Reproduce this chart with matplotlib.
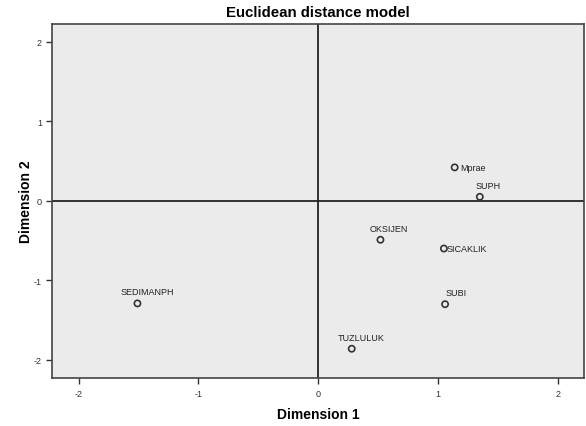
import matplotlib
matplotlib.use('Agg')
import matplotlib.pyplot as plt

plt.rcParams['font.family'] = ['Liberation Sans', 'DejaVu Sans']
plt.rcParams['axes.unicode_minus'] = False

# stimulus coordinates
names = ['Mprae', 'SUPH', 'OKSIJEN', 'SICAKLIK', 'SUBI', 'SEDIMANPH', 'TUZLULUK']
dim1 = [1.14, 1.35, 0.52, 1.05, 1.06, -1.51, 0.28]
dim2 = [0.42, 0.05, -0.49, -0.60, -1.30, -1.29, -1.86]

# label offsets in points and alignment
offsets = {
    'Mprae': (4, 0, 'left', 'center'),
    'SUPH': (-3, 5, 'left', 'bottom'),
    'OKSIJEN': (-8, 5, 'left', 'bottom'),
    'SICAKLIK': (2, 0, 'left', 'center'),
    'SUBI': (0, 5, 'left', 'bottom'),
    'SEDIMANPH': (-12, 5, 'left', 'bottom'),
    'TUZLULUK': (-10, 5, 'left', 'bottom'),
}

ticks = [-2, -1, 0, 1, 2]

def main():
    fig = plt.figure(figsize=(5.86, 4.27), dpi=100)
    ax = fig.add_axes([0.0895, 0.112, 0.907, 0.829])
    ax.set_facecolor('#ebebeb')

    ax.axhline(0, color='#222222', lw=1.3, zorder=1)
    ax.axvline(0, color='#222222', lw=1.3, zorder=1)

    ax.scatter(dim1, dim2, s=20, facecolors='none', edgecolors='#333333',
               linewidths=1.2, zorder=3)
    for n, x, y in zip(names, dim1, dim2):
        dx, dy, ha, va = offsets[n]
        ax.annotate(n, (x, y), xytext=(dx, dy), textcoords='offset points',
                    ha=ha, va=va, fontsize=6.5, color='#222222')

    ax.set_xlim(-2.22, 2.22)
    ax.set_ylim(-2.23, 2.22)
    ax.set_xticks(ticks)
    ax.set_yticks(ticks)
    ax.tick_params(labelsize=6.5, length=4, width=1, colors='#333333')

    for sp in ax.spines.values():
        sp.set_color('#444444')
        sp.set_linewidth(1.2)

    ax.set_xlabel('Dimension 1', fontsize=10, fontweight='bold', labelpad=7)
    ax.set_ylabel('Dimension 2', fontsize=10, fontweight='bold', labelpad=1)
    ax.set_title('Euclidean distance model', fontsize=10.8, fontweight='bold', pad=6)

    fig.savefig('out.png', dpi=100)

if __name__ == '__main__':
    main()
